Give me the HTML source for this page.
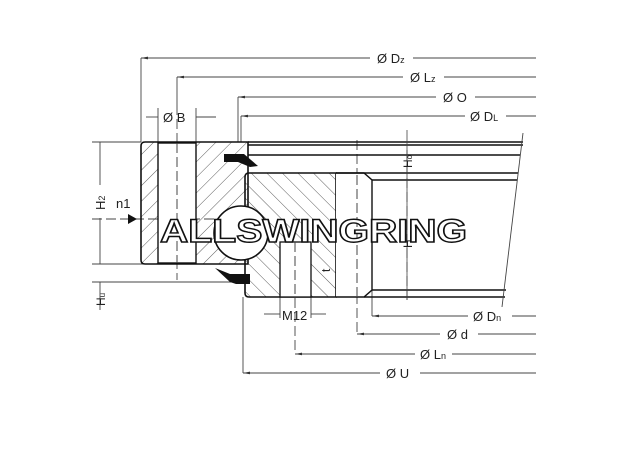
<!DOCTYPE html>
<html><head><meta charset="utf-8"><style>
html,body{margin:0;padding:0;background:#fff;}
svg{display:block;}
text{font-family:"Liberation Sans",sans-serif;fill:#222;}
</style></head><body>
<svg width="624" height="460" viewBox="0 0 624 460" xmlns="http://www.w3.org/2000/svg">
<defs>
<pattern id="h1" width="11" height="11" patternUnits="userSpaceOnUse" patternTransform="rotate(45)">
<line x1="0" y1="0" x2="0" y2="11" stroke="#333" stroke-width="0.8"/></pattern>
<pattern id="h2" width="11" height="11" patternUnits="userSpaceOnUse" patternTransform="rotate(-45)">
<line x1="0" y1="0" x2="0" y2="11" stroke="#333" stroke-width="0.8"/></pattern>
<marker id="a" markerWidth="8" markerHeight="6" refX="0" refY="3" orient="auto"><path d="M0,3 L8,1.5 L8,4.5z" fill="#333"/></marker>
</defs>
<g stroke="#444" stroke-width="0.9" fill="none">
<line x1="141" y1="58" x2="370" y2="58" marker-start="url(#a)"/><line x1="413" y1="58" x2="536" y2="58"/>
<line x1="141" y1="58" x2="141" y2="142"/>
<line x1="177" y1="77" x2="403" y2="77" marker-start="url(#a)"/><line x1="444" y1="77" x2="536" y2="77"/>
<line x1="177" y1="77" x2="177" y2="105"/>
<line x1="238" y1="97" x2="436" y2="97" marker-start="url(#a)"/><line x1="475" y1="97" x2="536" y2="97"/>
<line x1="238" y1="97" x2="238" y2="142"/>
<line x1="241" y1="116" x2="465" y2="116" marker-start="url(#a)"/><line x1="506" y1="116" x2="536" y2="116"/>
<line x1="241" y1="116" x2="241" y2="142"/>
<line x1="146" y1="117" x2="158" y2="117"/><line x1="196" y1="117" x2="216" y2="117"/>
<line x1="158" y1="108" x2="158" y2="142"/><line x1="196" y1="108" x2="196" y2="142"/>
<line x1="92" y1="142" x2="141" y2="142"/><line x1="92" y1="264" x2="245" y2="264"/>
<line x1="92" y1="282" x2="245" y2="282"/>
<line x1="100" y1="142" x2="100" y2="185"/><line x1="100" y1="218" x2="100" y2="264"/>
<line x1="100" y1="282" x2="100" y2="310"/>
<line x1="372" y1="290" x2="372" y2="316"/><line x1="372" y1="316" x2="468" y2="316" marker-start="url(#a)"/><line x1="512" y1="316" x2="536" y2="316"/>
<line x1="357" y1="140" x2="357" y2="334" stroke-dasharray="10,4"/><line x1="357" y1="334" x2="440" y2="334" marker-start="url(#a)"/><line x1="478" y1="334" x2="536" y2="334"/>
<line x1="295" y1="242" x2="295" y2="354" stroke-dasharray="10,4"/><line x1="295" y1="354" x2="415" y2="354" marker-start="url(#a)"/><line x1="452" y1="354" x2="536" y2="354"/>
<line x1="243" y1="297" x2="243" y2="373"/><line x1="243" y1="373" x2="380" y2="373" marker-start="url(#a)"/><line x1="420" y1="373" x2="536" y2="373"/>
<line x1="280" y1="297" x2="280" y2="318"/><line x1="311" y1="297" x2="311" y2="318"/>
<line x1="264" y1="314" x2="280" y2="314"/><line x1="311" y1="314" x2="326" y2="314"/>
<line x1="177" y1="105" x2="177" y2="280" stroke-dasharray="10,4"/>
<line x1="407" y1="150" x2="407" y2="300" stroke-dasharray="10,4"/>
<line x1="92" y1="219" x2="245" y2="219" stroke-dasharray="10,4"/>
</g>
<path d="M145,142 H248 V264 H145 Q141,264 141,260 V146 Q141,142 145,142Z" fill="url(#h1)" stroke="#111" stroke-width="1.6"/>
<rect x="158" y="143" width="38" height="120" fill="#fff" stroke="#111" stroke-width="1.4"/>
<line x1="177" y1="143" x2="177" y2="263" stroke="#444" stroke-dasharray="10,4"/>
<path d="M249,173 H336 V297 H249 Q245,297 245,293 V177 Q245,173 249,173Z" fill="url(#h2)" stroke="#111" stroke-width="1.6"/>
<rect x="280" y="242" width="31" height="55" fill="#fff" stroke="#111" stroke-width="1.3"/>
<line x1="295" y1="242" x2="295" y2="297" stroke="#444" stroke-dasharray="10,4"/>
<path d="M336,173 H364 L372,180 V290 L364,297 H336" fill="#fff" stroke="#111" stroke-width="1.4"/>
<line x1="357" y1="175" x2="357" y2="296" stroke="#444" stroke-dasharray="10,4"/>
<g stroke="#111" stroke-width="1.5" fill="none">
<line x1="248" y1="142" x2="523" y2="142"/><line x1="248" y1="145" x2="523" y2="145"/>
<line x1="248" y1="155" x2="520" y2="155"/>
<line x1="336" y1="173" x2="518" y2="173"/><line x1="372" y1="180" x2="517" y2="180"/>
<line x1="364" y1="297" x2="505" y2="297"/><line x1="372" y1="290" x2="506" y2="290"/>
</g>
<line x1="523" y1="133" x2="502" y2="307" stroke="#444" stroke-width="0.9"/>
<line x1="407" y1="130" x2="407" y2="300" stroke="#444" stroke-width="0.8"/>
<circle cx="241" cy="233" r="27" fill="#fff" stroke="#111" stroke-width="1.6"/>
<path d="M224,154 H244 L258,166 L250,167 L238,162 H224Z" fill="#111"/>
<path d="M215,268 L230,274 H250 V284 H236 L230,282Z" fill="#111"/>
<path d="M128,214 L137,219 L128,224Z" fill="#111"/>
<text x="377" y="63" font-size="13">Ø D<tspan font-size="9">z</tspan></text>
<text x="410" y="82" font-size="13">Ø L<tspan font-size="9">z</tspan></text>
<text x="443" y="102" font-size="13">Ø O</text>
<text x="470" y="121" font-size="13">Ø D<tspan font-size="9">L</tspan></text>
<text x="163" y="122" font-size="13">Ø B</text>
<text x="116" y="208" font-size="13">n1</text>
<text transform="translate(105,210) rotate(-90)" font-size="13">H<tspan font-size="9">2</tspan></text>
<text transform="translate(105,306) rotate(-90)" font-size="12">H<tspan font-size="8">u</tspan></text>
<text transform="translate(412,168) rotate(-90)" font-size="12">H<tspan font-size="8">o</tspan></text>
<text transform="translate(412,248) rotate(-90)" font-size="12">H</text>
<text transform="translate(330,272) rotate(-90)" font-size="12">t</text>
<text x="282" y="320" font-size="13">M12</text>
<text x="473" y="321" font-size="13">Ø D<tspan font-size="9">n</tspan></text>
<text x="447" y="339" font-size="13">Ø d</text>
<text x="420" y="359" font-size="13">Ø L<tspan font-size="9">n</tspan></text>
<text x="386" y="378" font-size="13">Ø U</text>
<text x="160" y="242" font-size="32" font-weight="bold" textLength="307" lengthAdjust="spacingAndGlyphs" style="font-family:'Liberation Sans',sans-serif;fill:#fff;stroke:#111;stroke-width:1.4">ALLSWINGRING</text>
</svg>
</body></html>
